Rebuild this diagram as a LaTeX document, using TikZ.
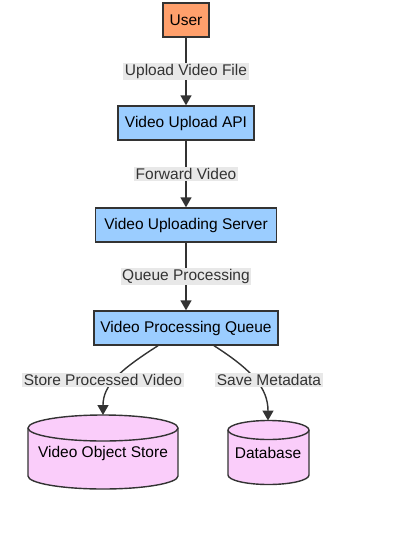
\documentclass[tikz,border=0pt]{standalone}
\usepackage{fontspec}
\setmainfont{Liberation Sans}
\usepackage{xcolor}
\usetikzlibrary{arrows.meta}

\definecolor{userfill}{RGB}{255,160,108}
\definecolor{stepfill}{RGB}{155,205,255}
\definecolor{storefill}{RGB}{250,205,250}
\definecolor{linecol}{RGB}{51,51,51}
\definecolor{lblfill}{RGB}{232,232,232}

\begin{document}
\begin{tikzpicture}[x=1pt,y=-1pt,
  box/.style={draw=linecol,line width=1.4pt,minimum height=34pt,text=black,font=\fontsize{15.5}{18}\selectfont},
  dbline/.style={draw=linecol,line width=1.4pt,fill=storefill},
  dbtext/.style={text=black,font=\fontsize{15.5}{18}\selectfont},
  lbl/.style={fill=lblfill,text=linecol,inner sep=1.5pt,font=\fontsize{15.5}{18}\selectfont},
  arr/.style={draw=linecol,line width=1.4pt,-{Triangle[length=10pt,width=11pt]}}]
  \useasboundingbox (0,0) rectangle (400,533);

  % Nodes of the pipeline
  \node[box,fill=userfill,minimum width=46pt] (user) at (186,20) {User};
  \node[box,fill=stepfill,minimum width=136pt] (api) at (186,123) {Video Upload API};
  \node[box,fill=stepfill,minimum width=181pt] (server) at (186,225) {Video Uploading Server};
  \node[box,fill=stepfill,minimum width=184pt] (queue) at (186,328) {Video Processing Queue};

  % Storage cylinders
  \filldraw[dbline] (28,428) -- (28,476) arc[start angle=180,end angle=360,x radius=75pt,y radius=13pt]
    -- (178,428) arc[start angle=0,end angle=180,x radius=75pt,y radius=13pt] -- cycle;
  \draw[dbline,fill=none] (28,428) arc[start angle=180,end angle=360,x radius=75pt,y radius=13pt];
  \filldraw[dbline] (228,430) -- (228,475) arc[start angle=180,end angle=360,x radius=40.5pt,y radius=9.5pt]
    -- (309,430) arc[start angle=0,end angle=180,x radius=40.5pt,y radius=9.5pt] -- cycle;
  \draw[dbline,fill=none] (228,430) arc[start angle=180,end angle=360,x radius=40.5pt,y radius=9.5pt];
  \node[dbtext] (store) at (103,453) {Video Object Store};
  \node[dbtext] (meta) at (268,453) {Database};
  \coordinate (storetop) at (103,415);
  \coordinate (metatop) at (268,420.5);

  % Straight connectors
  \draw[arr] (user) -- node[lbl] {Upload Video File} (api);
  \draw[arr] (api) -- node[lbl] {Forward Video} (server);
  \draw[arr] (server) -- node[lbl] {Queue Processing} (queue);

  % Curved connectors to the stores
  \draw[arr] ([xshift=-28pt]queue.south) .. controls (120,370) and (103,385) .. (storetop);
  \draw[arr] ([xshift=28pt]queue.south) .. controls (252,370) and (268,388) .. (metatop);
  \node[lbl] (lstore) at (103,380) {Store Processed Video};
  \node[lbl] (lmeta) at (269,380) {Save Metadata};

\end{tikzpicture}
\end{document}
